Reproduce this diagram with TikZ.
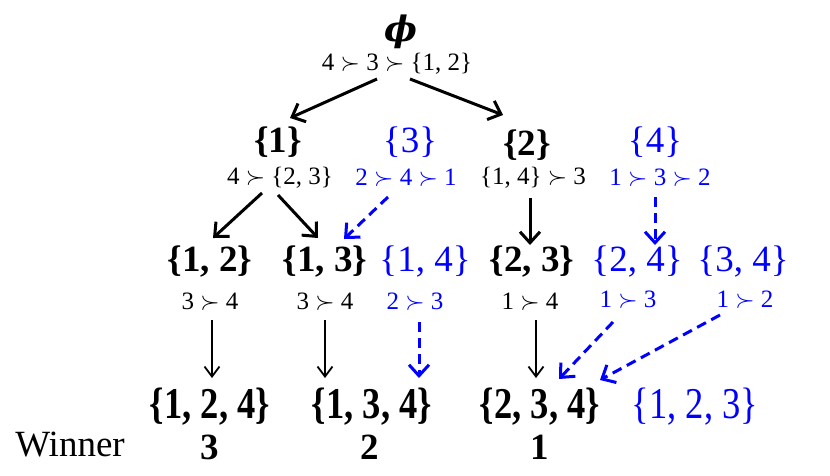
\documentclass[tikz,border=0pt]{standalone}
\usepackage{fontspec}
\setmainfont{Liberation Serif}
\newfontfamily\phifont{DejaVu Serif}
\usetikzlibrary{arrows.meta}
\definecolor{pblue}{RGB}{0,0,255}
\tikzset{
  setb/.style={inner sep=0pt, font=\fontsize{37}{40}\selectfont\bfseries},
  setr/.style={inner sep=0pt, text=pblue, font=\fontsize{37}{40}\selectfont},
  setc/.style={inner sep=0pt, font=\fontsize{44}{48}\selectfont\bfseries, xscale=0.83},
  lab/.style={inner sep=0pt, font=\fontsize{25}{28}\selectfont},
  labb/.style={lab, text=pblue},
  win/.style={inner sep=0pt, font=\fontsize{37}{40}\selectfont},
  arr/.style={line width=3pt, -{Straight Barb[length=11pt,width=20pt,line width=3pt]}},
  arrs/.style={line width=1.8pt, -{Straight Barb[length=10pt,width=15pt,line width=1.8pt]}},
  darr/.style={pblue, line width=3pt, dash pattern=on 10pt off 6pt, -{Straight Barb[length=11pt,width=20pt,line width=3pt]}},
}
\newcommand{\pref}{$\succ$}
\begin{document}
\begin{tikzpicture}[x=1pt,y=-1pt]
\useasboundingbox (0,0) rectangle (830,475);
% level 0
\node[inner sep=0pt, text depth=0pt, anchor=base, font=\fontsize{35}{38}\selectfont\phifont\bfseries\itshape] (phi) at (401,41) {ϕ};
\node[lab] (l0) at (397,64) {4 \pref\ 3 \pref\ \{1, 2\}};
% level 1
\node[setb] (n1) at (278,142) {\{1\}};
\node[lab] (l1) at (280,178) {4 \pref\ \{2, 3\}};
\node[setr] (n3) at (410,142) {\{3\}};
\node[labb] (l3) at (406,178) {2 \pref\ 4 \pref\ 1};
\node[setb] (n2) at (527,145) {\{2\}};
\node[lab] (l2) at (533,178) {\{1, 4\} \pref\ 3};
\node[setr] (n4) at (655,142) {\{4\}};
\node[labb] (l4) at (660,178) {1 \pref\ 3 \pref\ 2};
% level 2
\node[setb] (n12) at (210,262) {\{1, 2\}};
\node[setb] (n13) at (325,262) {\{1, 3\}};
\node[setr] (n14) at (425,262) {\{1, 4\}};
\node[setb] (n23) at (532,262) {\{2, 3\}};
\node[setr] (n24) at (637,262) {\{2, 4\}};
\node[setr] (n34) at (743,262) {\{3, 4\}};
\node[lab] (l12) at (210,302) {3 \pref\ 4};
\node[lab] (l13) at (325,302) {3 \pref\ 4};
\node[labb] (l14) at (415,302) {2 \pref\ 3};
\node[lab] (l23) at (530,302) {1 \pref\ 4};
\node[labb] (l24) at (628,300) {1 \pref\ 3};
\node[labb] (l34) at (745,300) {1 \pref\ 2};
% level 3
\node[setc] (m124) at (210,407) {\{1, 2, 4\}};
\node[setc] (m134) at (372,407) {\{1, 3, 4\}};
\node[setc] (m234) at (540,407) {\{2, 3, 4\}};
\node[setr, font=\fontsize{44}{48}\selectfont, xscale=0.83] (m123) at (695,407) {\{1, 2, 3\}};
% winners
\node[win] (wl) at (70,445) {Winner};
\node[win, font=\fontsize{37}{40}\selectfont\bfseries] (w1) at (210,447) {3};
\node[win, font=\fontsize{37}{40}\selectfont\bfseries] (w2) at (370,447) {2};
\node[win, font=\fontsize{37}{40}\selectfont\bfseries] (w3) at (540,447) {1};
% arrows
\draw[arr] ([xshift=-20pt,yshift=-15pt]l0.center) -- ([xshift=12pt,yshift=24pt]n1.center);
\draw[arr] ([xshift=13pt,yshift=-15pt]l0.center) -- ([xshift=-24pt,yshift=30pt]n2.center);
\draw[arr] ([xshift=-18pt,yshift=-15pt]l1.center) -- ([xshift=3pt,yshift=24pt]n12.center);
\draw[arr] ([xshift=-2pt,yshift=-17pt]l1.center) -- ([xshift=-7pt,yshift=24pt]n13.center);
\draw[darr] ([xshift=-18pt,yshift=-19pt]l3.center) -- ([xshift=19pt,yshift=23pt]n13.center);
\draw[arr] ([xshift=-3pt,yshift=-20pt]l2.center) -- ([xshift=-2pt,yshift=17pt]n23.center);
\draw[darr] ([xshift=-5pt,yshift=-19pt]l4.center) -- ([xshift=18pt,yshift=17pt]n24.center);
\draw[arrs] ([xshift=2pt,yshift=-18pt]l12.center) -- ([xshift=2pt,yshift=29pt]m124.center);
\draw[arrs] ([yshift=-18pt]l13.center) -- ([xshift=-47pt,yshift=29pt]m134.center);
\draw[darr] ([xshift=4pt,yshift=-20pt]l14.center) -- ([xshift=47pt,yshift=29pt]m134.center);
\draw[arrs] ([xshift=6pt,yshift=-18pt]l23.center) -- ([xshift=-4pt,yshift=29pt]m234.center);
\draw[darr] ([xshift=-15pt,yshift=-22pt]l24.center) -- ([xshift=19pt,yshift=28pt]m234.center);
\draw[darr] ([xshift=-25pt,yshift=-15pt]l34.center) -- ([xshift=60pt,yshift=27pt]m234.center);
\end{tikzpicture}
\end{document}
